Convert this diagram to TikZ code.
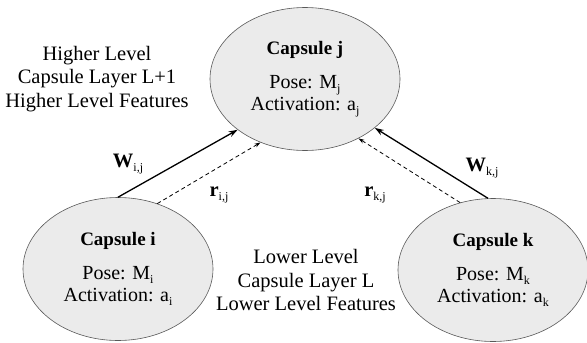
\documentclass[tikz,border=0pt]{standalone}
\usepackage{fontspec}
\setmainfont{Liberation Serif}
\usetikzlibrary{positioning, arrows.meta, shapes.geometric}
\newcommand{\lowidx}[1]{\raisebox{-0.4ex}{\fontsize{12}{12}\selectfont #1}}
\newcommand{\capname}[1]{{\fontsize{19}{21}\selectfont\bfseries #1}}

\begin{document}
\begin{tikzpicture}[
    x=1pt, y=-1pt,
    every node/.style={font=\fontsize{20.5}{23.5}\selectfont, align=center},
    capsule/.style={draw=black!65, ellipse, fill=black!8, line width=0.6pt, minimum width=190pt, minimum height=143pt, inner sep=0pt, font=\fontsize{20}{22}\selectfont},
    arrow/.style={-{Stealth[length=9pt, width=6pt]}, line width=1.3pt},
    feedback/.style={-{Stealth[length=6pt, width=4pt]}, line width=0.8pt, dash pattern=on 4pt off 3pt}
]
\useasboundingbox (0,0) rectangle (587,343);

\node[capsule] (j) at (305,79) {\capname{Capsule j}\\[12pt] Pose: M\lowidx{j}\\ Activation: a\lowidx{j}};
\node[capsule] (i) at (118,269) {\capname{Capsule i}\\[12pt] Pose: M\lowidx{i}\\ Activation: a\lowidx{i}};
\node[capsule] (k) at (493,270) {\capname{Capsule k}\\[12pt] Pose: M\lowidx{k}\\ Activation: a\lowidx{k}};

\node (high) at (97,79) {Higher Level\\ Capsule Layer L+1\\ Higher Level Features};
\node (low) at (306,280) {Lower Level\\ Capsule Layer L\\ Lower Level Features};

\draw[arrow] (i.north) -- (j.217);
\draw[feedback] (i.59) -- (j.235);
\draw[arrow] (k.94) -- (j.325);
\draw[feedback] (k.116) -- (j.312);

\node (wij) at (128,164) {\textbf{W}\lowidx{i,j}};
\node (rij) at (219,195) {\textbf{r}\lowidx{i,j}};
\node (wkj) at (482,168) {\textbf{W}\lowidx{k,j}};
\node (rkj) at (375,195) {\textbf{r}\lowidx{k,j}};

\end{tikzpicture}
\end{document}
